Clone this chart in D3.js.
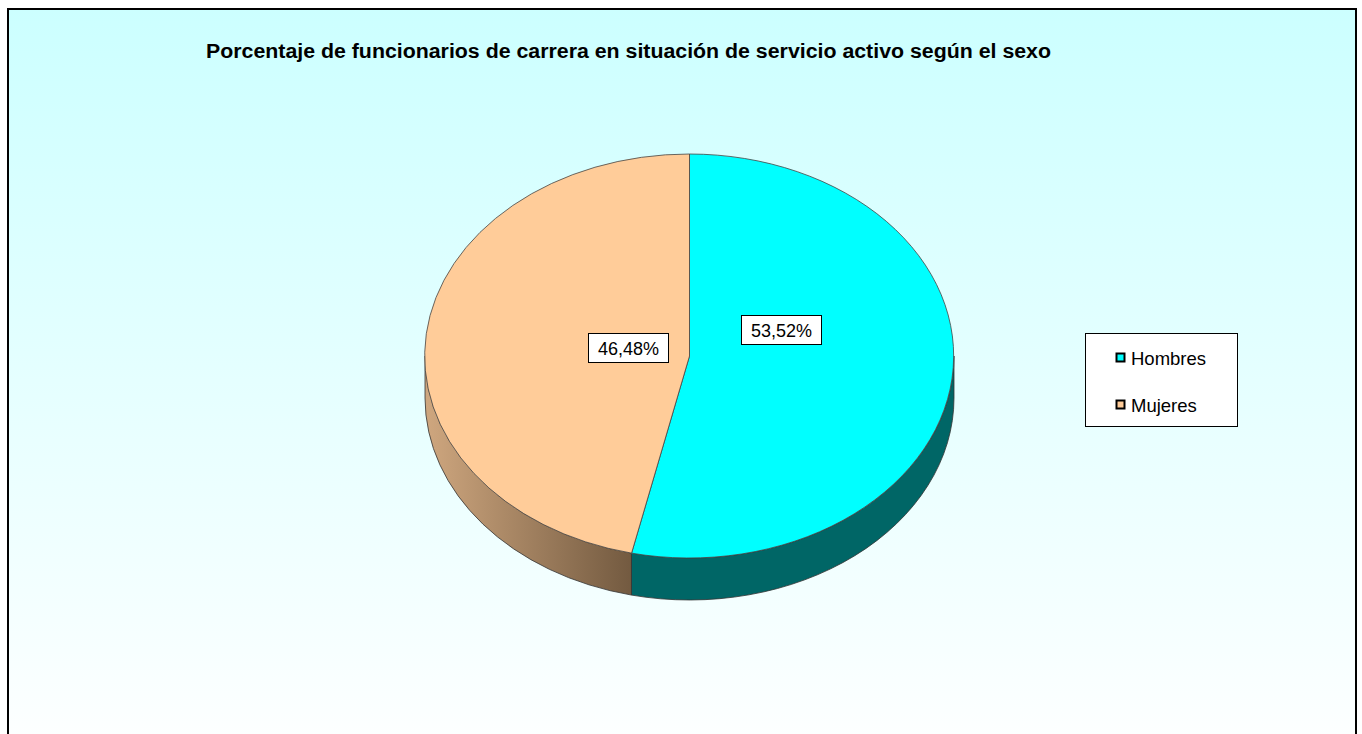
<!DOCTYPE html>
<html>
<head>
<meta charset="utf-8">
<script src="https://cdn.jsdelivr.net/npm/d3@7"></script>
<style>
  html, body { margin: 0; padding: 0; background: #ffffff; }
  svg { display: block; }
</style>
</head>
<body>
<div id="chart"></div>
<script>
// ---- data ----
const categories = ["Hombres", "Mujeres"];
const values = [53.52, 46.48];
const labels = ["53,52%", "46,48%"];
const title = "Porcentaje de funcionarios de carrera en situación de servicio activo según el sexo";

// ---- styles / layout ----
const W = 1362, H = 734;
const topColors = ["#00FFFF", "#FFCC99"];
const cx = 689.5, cy = 356, rx = 264.5, ry = 202, depth = 42;
const labelOffsets = [[92, -26], [-61, -8]];
const font = "'Liberation Sans', Arial, sans-serif";

const svg = d3.select("#chart").append("svg").attr("width", W).attr("height", H);
const defs = svg.append("defs");

const bg = defs.append("linearGradient").attr("id", "bg").attr("x1", 0).attr("y1", 0).attr("x2", 0).attr("y2", 1);
bg.append("stop").attr("offset", "0%").attr("stop-color", "#CCFFFF");
bg.append("stop").attr("offset", "100%").attr("stop-color", "#FFFFFF");

const sideM = defs.append("linearGradient").attr("id", "sideM").attr("gradientUnits", "userSpaceOnUse")
  .attr("x1", cx - rx).attr("y1", 0).attr("x2", cx - 58).attr("y2", 0);
sideM.append("stop").attr("offset", "0%").attr("stop-color", "#CFA77F");
sideM.append("stop").attr("offset", "100%").attr("stop-color", "#735A40");

svg.append("rect").attr("x", 8).attr("y", 9).attr("width", 1348).attr("height", 760)
  .attr("fill", "url(#bg)").attr("stroke", "#000").attr("stroke-width", 2);

svg.append("text").attr("x", 206).attr("y", 58)
  .attr("font-family", font).attr("font-weight", "bold").attr("font-size", 20)
  .attr("textLength", 845).attr("lengthAdjust", "spacingAndGlyphs")
  .attr("fill", "#000").text(title);

const pie = d3.pie().sort(null).startAngle(0).endAngle(2 * Math.PI);
const arcs = pie(values);

const px = a => cx + rx * Math.sin(a);
const py = a => cy - ry * Math.cos(a);

// side walls (front half only: angles between PI/2 and 3PI/2)
const sideFills = ["#006666", "url(#sideM)"];
arcs.forEach((d, i) => {
  const a0 = Math.max(d.startAngle, Math.PI / 2);
  const a1 = Math.min(d.endAngle, 3 * Math.PI / 2);
  if (a1 <= a0) return;
  const large = (a1 - a0) > Math.PI ? 1 : 0;
  const p = `M${px(a0)},${py(a0)} A${rx},${ry} 0 ${large} 1 ${px(a1)},${py(a1)}` +
            ` L${px(a1)},${py(a1) + depth} A${rx},${ry} 0 ${large} 0 ${px(a0)},${py(a0) + depth} Z`;
  svg.append("path").attr("d", p).attr("fill", sideFills[i])
    .attr("stroke", "#333").attr("stroke-width", 0.8).attr("stroke-linejoin", "round");
});

// top face
const arcGen = d3.arc().innerRadius(0).outerRadius(1);
const topG = svg.append("g").attr("transform", `translate(${cx},${cy}) scale(${rx},${ry})`);
topG.selectAll("path").data(arcs).join("path")
  .attr("d", arcGen)
  .attr("fill", (d, i) => topColors[i])
  .attr("stroke", "#444").attr("stroke-width", 0.8)
  .attr("vector-effect", "non-scaling-stroke");

// labels
arcs.forEach((d, i) => {
  const lx = cx + labelOffsets[i][0], ly = cy + labelOffsets[i][1];
  const g = svg.append("g");
  g.append("rect").attr("x", lx - 40).attr("y", ly - 14.5)
    .attr("width", 80).attr("height", 29).attr("fill", "#fff").attr("stroke", "#000").attr("stroke-width", 1);
  g.append("text").attr("x", lx).attr("y", ly + 6.5)
    .attr("text-anchor", "middle")
    .attr("font-family", font).attr("font-size", 18).attr("fill", "#000").text(labels[i]);
});

// legend
const lg = svg.append("g");
lg.append("rect").attr("x", 1085.5).attr("y", 333.5).attr("width", 152).attr("height", 93)
  .attr("fill", "#fff").attr("stroke", "#000").attr("stroke-width", 1);
categories.forEach((c, i) => {
  const y = 358 + i * 47;
  lg.append("rect").attr("x", 1116.5).attr("y", y - 4.5).attr("width", 8).attr("height", 8)
    .attr("fill", topColors[i]).attr("stroke", "#000").attr("stroke-width", 2);
  lg.append("text").attr("x", 1131).attr("y", y + 6.5)
    .attr("font-family", font).attr("font-size", 18.5).attr("fill", "#000").text(c);
});
</script>
</body>
</html>
